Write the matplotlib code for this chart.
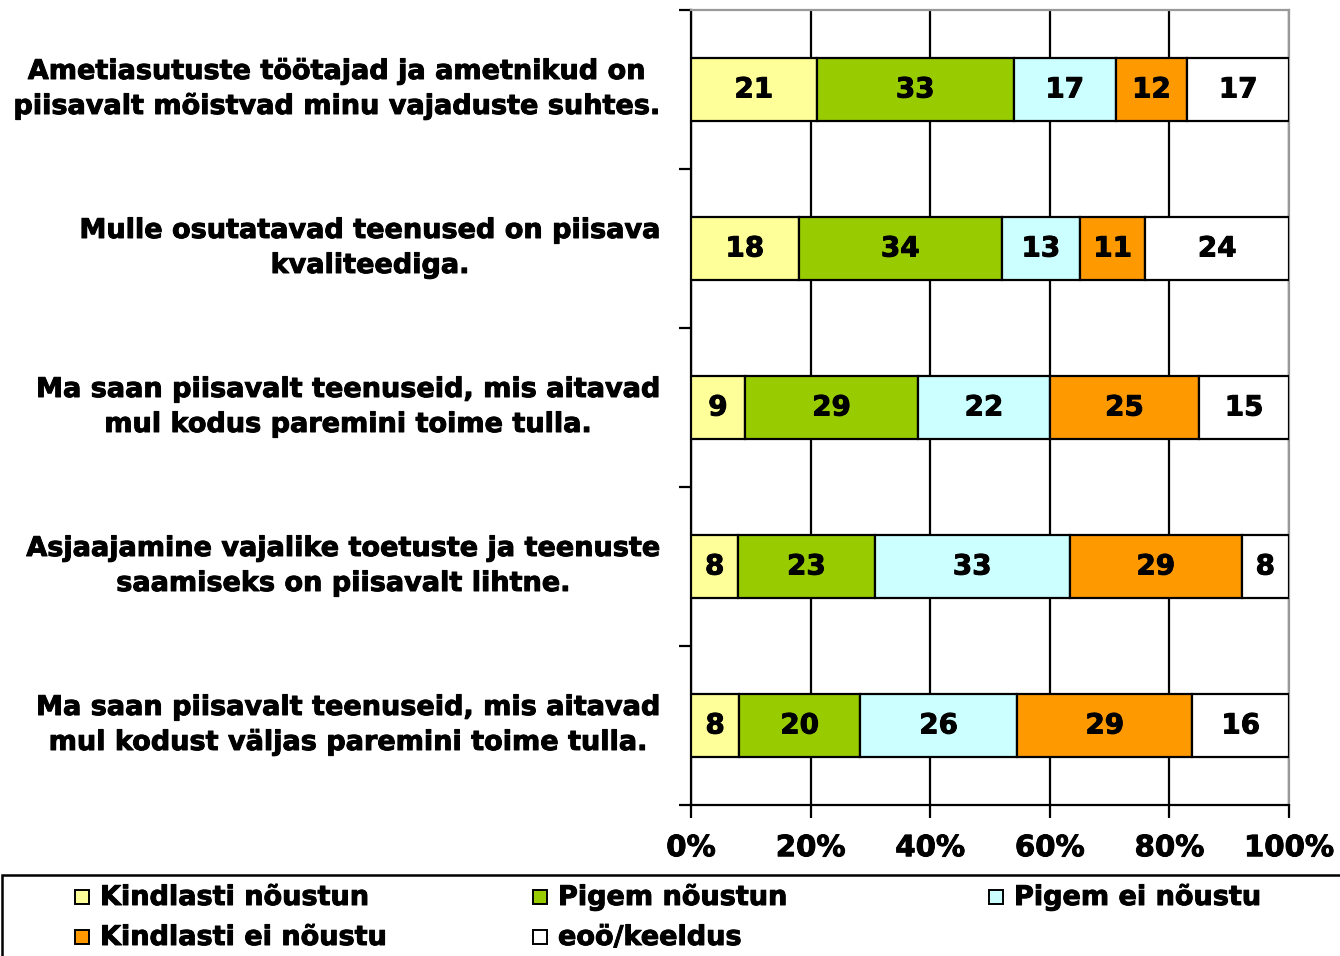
import matplotlib
matplotlib.use("Agg")
import matplotlib.pyplot as plt
import matplotlib.patheffects as pe
import numpy as np
from matplotlib.patches import Rectangle

plt.rcParams['font.family'] = ['DejaVu Sans']
plt.rcParams['font.weight'] = 'bold'

categories = [
    "Ametiasutuste töötajad ja ametnikud on\npiisavalt mõistvad minu vajaduste suhtes.",
    "Mulle osutatavad teenused on piisava\nkvaliteediga.",
    "Ma saan piisavalt teenuseid, mis aitavad\nmul kodus paremini toime tulla.",
    "Asjaajamine vajalike toetuste ja teenuste\nsaamiseks on piisavalt lihtne.",
    "Ma saan piisavalt teenuseid, mis aitavad\nmul kodust väljas paremini toime tulla.",
]
series_names = ["Kindlasti nõustun", "Pigem nõustun", "Pigem ei nõustu",
                "Kindlasti ei nõustu", "eoö/keeldus"]
kindlasti_noustun = [21, 18, 9, 8, 8]
pigem_noustun = [33, 34, 29, 23, 20]
pigem_ei_noustu = [17, 13, 22, 33, 26]
kindlasti_ei_noustu = [12, 11, 25, 29, 29]
eoo_keeldus = [17, 24, 15, 8, 16]
colors = ["#FFFF99", "#99CC00", "#CCFFFF", "#FF9900", "#FFFFFF"]
xtick_labels = ["0%", "20%", "40%", "60%", "80%", "100%"]

data = np.array([kindlasti_noustun, pigem_noustun, pigem_ei_noustu,
                 kindlasti_ei_noustu, eoo_keeldus], dtype=float)
pct = data / data.sum(axis=0) * 100

W, H = 1340, 956
fig = plt.figure(figsize=(W / 100, H / 100), dpi=100)
ax = fig.add_axes([691 / W, 1 - 805 / H, (1289 - 691) / W, (805 - 10) / H])

heavy = [pe.withStroke(linewidth=0.7, foreground='black')]

y = np.arange(len(categories))
left = np.zeros(len(categories))
fs = 19.5
for i in range(len(series_names)):
    bars = ax.barh(y, pct[i], left=left, height=0.40, color=colors[i],
                   edgecolor='black', linewidth=1.6, zorder=3)
    for j, b in enumerate(bars):
        ax.text(left[j] + pct[i][j] / 2, y[j], f"{int(data[i][j])}",
                ha='center', va='center', fontsize=20, fontweight='bold',
                zorder=4, path_effects=heavy)
    left += pct[i]

ax.set_xlim(0, 100)
ax.set_ylim(len(categories) - 0.5, -0.5)
ax.set_xticks(np.arange(0, 101, 20))
ax.set_xticklabels(xtick_labels, fontsize=21, fontweight='bold')
ax.tick_params(axis='x', length=9, width=1.6, pad=12, direction='out')
ax.set_yticks(y)
ax.set_yticklabels(categories, fontsize=fs, fontweight='bold', va='center')
for t in ax.get_yticklabels():
    t.set_multialignment('center')
    t.set_linespacing(1.45)
    t.set_path_effects(heavy)
for t in ax.get_xticklabels():
    t.set_path_effects(heavy)
ax.tick_params(axis='y', length=0, pad=22)
ax.set_yticks(np.arange(-0.5, len(categories) + 0.5, 1), minor=True)
ax.tick_params(axis='y', which='minor', length=9, width=1.6, direction='out')
ax.grid(axis='x', color='black', linewidth=1.6, zorder=0)
for s in ['left', 'bottom']:
    ax.spines[s].set_color('black')
    ax.spines[s].set_linewidth(1.6)
for s in ['top', 'right']:
    ax.spines[s].set_color('#999999')
    ax.spines[s].set_linewidth(1.6)

# legend frame
fig.patches.append(Rectangle((2 / W, -0.02), 1.05, 1 - 875 / H + 0.02,
                             transform=fig.transFigure, facecolor='none',
                             edgecolor='black', linewidth=1.8))
marker_x = [82, 540, 996]
rows_y = [897, 937]
order_pos = [(0, 0), (0, 1), (0, 2), (1, 0), (1, 1)]
for i, name in enumerate(series_names):
    r, c = order_pos[i]
    mx, my = marker_x[c], rows_y[r]
    fig.patches.append(Rectangle(((mx - 7) / W, 1 - (my + 7) / H), 14 / W, 14 / H,
                                 transform=fig.transFigure, facecolor=colors[i],
                                 edgecolor='black', linewidth=1.4))
    fig.text((mx + 18) / W, 1 - (my + 1) / H, name, ha='left', va='center',
             fontsize=fs, fontweight='bold', path_effects=heavy)

fig.savefig("out.png", dpi=100)
